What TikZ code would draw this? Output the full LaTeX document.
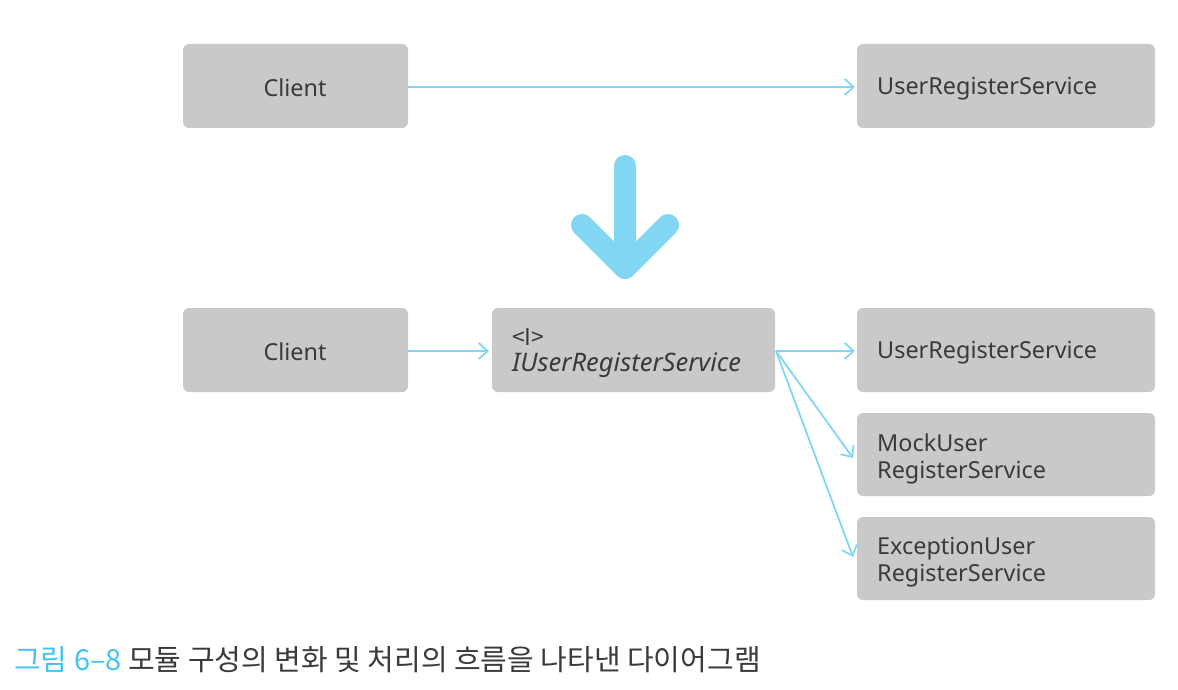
\documentclass[tikz,border=0pt]{standalone}
\usepackage{fontspec}
\setmainfont{Noto Sans}
\newfontfamily\kr{Noto Sans CJK KR}
\usetikzlibrary{arrows.meta}
\definecolor{boxgray}{HTML}{C9C9C9}
\definecolor{txt}{HTML}{3A3A3A}
\definecolor{lblue}{HTML}{80D6F3}
\definecolor{capblue}{HTML}{45C3EC}
\tikzset{
  box/.style={fill=boxgray, rounded corners=6pt, draw=none},
  lbl/.style={text=txt, font=\fontsize{23.4}{27}\selectfont, align=left, anchor=west, inner sep=0},
  conn/.style={draw=lblue, line width=1.8pt, -{Straight Barb[length=9pt,width=16pt,line width=1.8pt]}},
}
\begin{document}
\begin{tikzpicture}[x=1pt,y=-1pt]
\useasboundingbox (0,0) rectangle (1178,690);
% top row
\path[box] (183,44) rectangle (408,128);
\node[coordinate] (c1e) at (408,87) {};
\node[text=txt, font=\fontsize{23.4}{27}\selectfont] (c1) at (295,88) {Client};
\path[box] (857,44) rectangle (1155,128);
\node[coordinate] (u1w) at (855,87) {};
\node[lbl] (u1) at (877,89) {UserRegisterService};
\draw[conn] (c1e) -- (u1w);
% big arrow
\coordinate (bt) at (625,166);
\coordinate (bb) at (625,268);
\coordinate (bl) at (582,225);
\coordinate (br) at (668,225);
\draw[lblue, line width=22pt, line cap=round, line join=round] (bt) -- (bb);
\draw[lblue, line width=22pt, line cap=round, line join=round] (bl) -- (bb) -- (br);
% bottom
\path[box] (183,308) rectangle (408,392);
\node[coordinate] (c2e) at (408,351) {};
\node[text=txt, font=\fontsize{23.4}{27}\selectfont] (c2) at (295,352) {Client};
\path[box] (492,308) rectangle (775,392);
\node[coordinate] (iw) at (489,351) {};
\node[coordinate] (ie) at (776,351) {};
\node[lbl, font=\kr\fontsize{23}{26}\selectfont] (ilab) at (512,337) {<I>};
\node[lbl, font=\fontsize{25.5}{29}\selectfont] (iname) at (512,365) {\itshape IUserRegisterService};
\path[box] (857,308) rectangle (1155,392);
\node[coordinate] (u2w) at (855,351) {};
\node[lbl] (u2) at (877,353) {UserRegisterService};
\path[box] (857,413) rectangle (1155,496);
\node[coordinate] (mw) at (853,458) {};
\node[lbl, align=left] (m) at (877,459) {MockUser\\[0pt]RegisterService};
\path[box] (857,517) rectangle (1155,600);
\node[coordinate] (ew) at (853,557) {};
\node[lbl, align=left] (e) at (877,562) {ExceptionUser\\[0pt]RegisterService};
\draw[conn] (c2e) -- (iw);
\draw[conn] (ie) -- (u2w);
\draw[conn] (ie) -- (mw);
\draw[conn] (ie) -- (ew);
% caption
\node[anchor=base west, inner sep=0, font=\kr\fontsize{29}{33}\selectfont] (cap) at (14,670) {\textcolor{capblue}{그림 6–8} \textcolor{txt}{모듈 구성의 변화 및 처리의 흐름을 나타낸 다이어그램}};
\end{tikzpicture}
\end{document}
